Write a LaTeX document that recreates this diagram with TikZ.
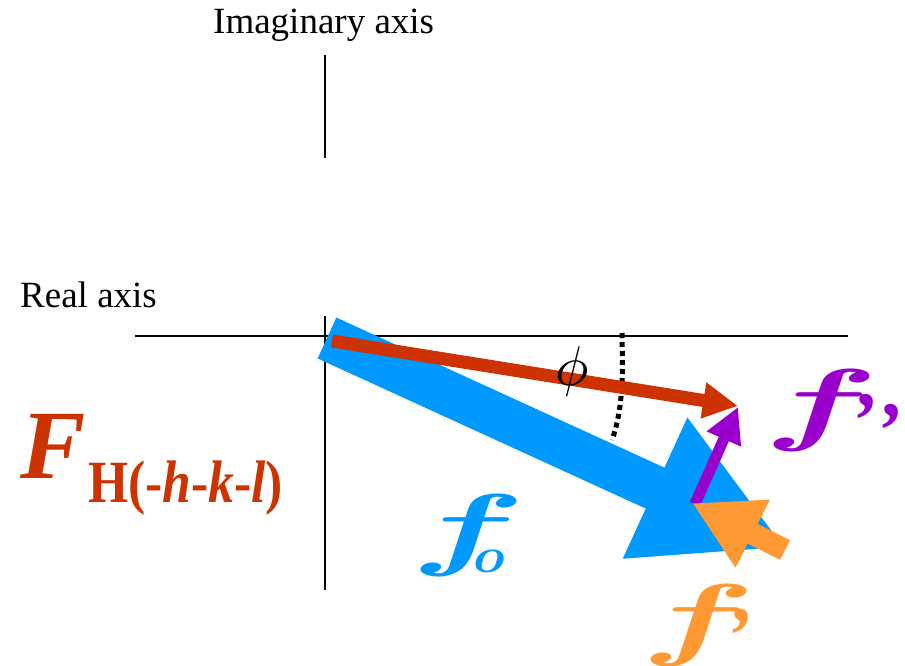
\documentclass[tikz,border=0pt]{standalone}
\usepackage{fontspec}
\setmainfont{Liberation Serif}
\usepackage{graphicx}
\usepackage{bm}
\usetikzlibrary{arrows.meta}
\definecolor{fred}{RGB}{204,51,0}
\definecolor{fblue}{RGB}{0,153,255}
\definecolor{fpurple}{RGB}{153,0,204}
\definecolor{forange}{RGB}{255,153,51}
\newcommand{\bigf}{\makebox[0pt][l]{\scalebox{17}[9.2]{\normalsize$\bm{f}$}}}
\newcommand{\bigq}[1]{\makebox[0pt][l]{\raisebox{#1}{\fontsize{80}{80}\selectfont\bfseries\itshape ’}}}
\begin{document}
\begin{tikzpicture}[x=1pt,y=-1pt,
  axisline/.style={line width=2pt,black},
  axislabel/.style={inner sep=0pt,anchor=base west,font=\fontsize{37}{37}\selectfont},
  vec/.style={line cap=butt},
  flabel/.style={inner sep=0pt,anchor=base west,font=\fontsize{70}{70}\selectfont\bfseries\itshape}]
\useasboundingbox (0,0) rectangle (905,665);
% axes
\coordinate (ytop) at (325,55);
\coordinate (ymid) at (325,158);
\coordinate (ylow) at (325,316);
\coordinate (ybot) at (325,590);
\coordinate (xl) at (135,336);
\coordinate (xr) at (848,336);
\draw[axisline] (ytop) -- (ymid);
\draw[axisline] (ylow) -- (ybot);
\draw[axisline] (xl) -- (xr);
\node[axislabel] (imlab) at (213,33) {Imaginary axis};
\node[axislabel] (relab) at (20,307) {Real axis};
% vectors
\coordinate (O) at (327,338);
\coordinate (Bt) at (786,548);
\coordinate (R0) at (332,341);
\coordinate (Rt) at (738,406);
\coordinate (P0) at (695,504);
\coordinate (Pt) at (738,407);
\coordinate (Q0) at (785,550);
\coordinate (Qt) at (692,503);
\draw[vec,fblue,line width=45pt,-{Triangle[length=144pt,width=144pt]}] (O) -- (Bt);
% angle arc
\coordinate (A0) at (622,333);
\coordinate (A1) at (612,440);
\draw[line width=5pt,dash pattern=on 5pt off 4pt] (A0) .. controls (622.6,368.5) and (624,406.6) .. (A1);
\draw[vec,fred,line width=13pt,-{Triangle[length=35pt,width=34pt]}] (R0) -- (Rt);
\node[inner sep=0pt] (phi) at (572,371) {\scalebox{5.6}{$\phi$}};
\draw[vec,fpurple,line width=11pt,-{Triangle[length=35pt,width=35pt]}] (P0) -- (Pt);
\draw[vec,forange,line width=22pt,-{Triangle[length=68pt,width=71pt]}] (Q0) -- (Qt);
% labels
\node[inner sep=0pt,anchor=base west,text=fred,font=\fontsize{98}{98}\selectfont\bfseries\itshape] (F) at (20,478) {F};
\node[inner sep=0pt,anchor=base west,text=fred,font=\fontsize{60}{60}\selectfont\bfseries] (Fsub) at (88,502) {\scalebox{0.86}[1]{H(-\textit{h}-\textit{k}-\textit{l})}};
\node[flabel,text=fblue] (fo) at (410,558) {\bigf\hspace{63pt}\raisebox{-14pt}{\scalebox{5.4}[5]{\normalsize$\bm{o}$}}};
\node[flabel,text=fpurple] (fpp) at (763,433) {\bigf\hspace{86pt}\bigq{-14pt}\hspace{25pt}\bigq{-24pt}\hspace{22pt}};
\node[flabel,text=forange] (fp) at (640,648) {\bigf\hspace{84pt}\bigq{-14pt}\hspace{24pt}};
\end{tikzpicture}
\end{document}
